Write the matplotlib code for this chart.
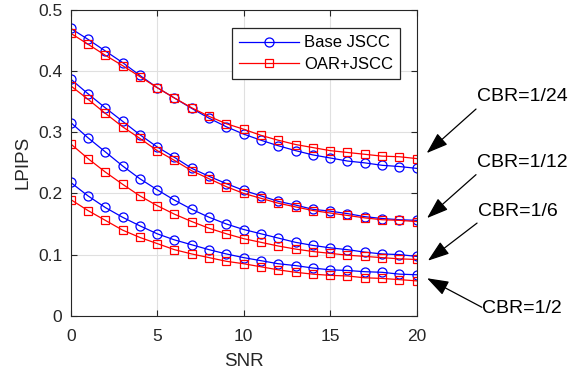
import matplotlib
matplotlib.use("Agg")
import matplotlib.pyplot as plt

plt.rcParams['font.family'] = ['Liberation Sans', 'DejaVu Sans']

snr = list(range(21))

base_cbr24 = [0.470, 0.452, 0.433, 0.414, 0.393, 0.373, 0.356, 0.339, 0.323, 0.309, 0.297,
              0.287, 0.278, 0.270, 0.263, 0.258, 0.253, 0.250, 0.246, 0.244, 0.241]
oar_cbr24 = [0.462, 0.444, 0.426, 0.409, 0.391, 0.373, 0.356, 0.340, 0.326, 0.314, 0.305,
             0.295, 0.287, 0.280, 0.275, 0.270, 0.267, 0.264, 0.261, 0.260, 0.257]
base_cbr12 = [0.387, 0.363, 0.340, 0.318, 0.296, 0.276, 0.259, 0.241, 0.228, 0.216, 0.205,
              0.196, 0.187, 0.181, 0.174, 0.171, 0.167, 0.162, 0.159, 0.157, 0.156]
oar_cbr12 = [0.376, 0.354, 0.331, 0.309, 0.290, 0.270, 0.254, 0.237, 0.224, 0.211, 0.200,
             0.192, 0.184, 0.178, 0.172, 0.168, 0.164, 0.160, 0.157, 0.156, 0.154]
base_cbr6 = [0.316, 0.291, 0.268, 0.245, 0.224, 0.206, 0.189, 0.174, 0.161, 0.150, 0.141,
             0.134, 0.127, 0.120, 0.115, 0.111, 0.108, 0.104, 0.101, 0.100, 0.097]
oar_cbr6 = [0.281, 0.257, 0.235, 0.215, 0.196, 0.180, 0.166, 0.154, 0.143, 0.134, 0.126,
            0.120, 0.114, 0.109, 0.105, 0.102, 0.099, 0.097, 0.095, 0.093, 0.092]
base_cbr2 = [0.218, 0.196, 0.177, 0.161, 0.147, 0.134, 0.124, 0.116, 0.108, 0.101, 0.095,
             0.090, 0.085, 0.082, 0.078, 0.075, 0.074, 0.072, 0.071, 0.068, 0.067]
oar_cbr2 = [0.190, 0.172, 0.156, 0.140, 0.128, 0.118, 0.108, 0.101, 0.095, 0.089, 0.085,
            0.080, 0.075, 0.071, 0.068, 0.066, 0.065, 0.062, 0.061, 0.059, 0.057]

base_series = [base_cbr24, base_cbr12, base_cbr6, base_cbr2]
oar_series = [oar_cbr24, oar_cbr12, oar_cbr6, oar_cbr2]
legend_labels = ['Base JSCC', 'OAR+JSCC']
cbr_labels = ['CBR=1/24', 'CBR=1/12', 'CBR=1/6', 'CBR=1/2']
x_ticks = [0, 5, 10, 15, 20]
y_ticks = [0, 0.1, 0.2, 0.3, 0.4, 0.5]
y_tick_labels = ['0', '0.1', '0.2', '0.3', '0.4', '0.5']

fig = plt.figure(figsize=(5.8, 3.72), dpi=100)
ax = fig.add_axes([0.1219, 0.1513, 0.5965, 0.8218])

dark = '0.15'
for i, (b, o) in enumerate(zip(base_series, oar_series)):
    ax.plot(snr, b, color='#0000FF', lw=0.9, marker='o', ms=6.5, mfc='none', mew=0.9,
            label=legend_labels[0] if i == 0 else None)
    ax.plot(snr, o, color='#FF0000', lw=0.9, marker='s', ms=5.2, mfc='none', mew=0.9,
            label=legend_labels[1] if i == 0 else None)

ax.set_xlim(0, 20)
ax.set_ylim(0, 0.5)
ax.set_xticks(x_ticks)
ax.set_yticks(y_ticks)
ax.set_xticklabels([str(t) for t in x_ticks])
ax.set_yticklabels(y_tick_labels)
ax.grid(True, color='#E0E0E0', lw=0.8)
ax.set_axisbelow(True)
ax.tick_params(direction='in', top=True, right=True, length=4, width=0.8,
               colors=dark, labelsize=12.5)
ax.tick_params(axis='x', pad=9.5)
ax.tick_params(axis='y', pad=6)
for sp in ax.spines.values():
    sp.set_color(dark)
    sp.set_linewidth(0.8)
ax.set_xlabel('SNR', fontsize=13.5, color=dark, labelpad=6.5)
ax.set_ylabel('LPIPS', fontsize=13.5, color=dark, labelpad=4.5)

leg = ax.legend(loc='upper left', bbox_to_anchor=(0.465, 0.94), borderaxespad=0,
                fontsize=12, handlelength=3.6, handletextpad=0.35, labelspacing=0.38,
                borderpad=0.42, fancybox=False, framealpha=1, edgecolor=dark)
leg.get_frame().set_linewidth(0.9)

text_pos = [(23.47, 0.358), (23.47, 0.251), (23.54, 0.1705), (23.76, 0.0121)]
arrow_tail = [(23.43, 0.338), (23.43, 0.2307), (23.49, 0.1515), (23.77, 0.0138)]
arrow_head = [(20.58, 0.266), (20.6, 0.1597), (20.65, 0.090), (20.6, 0.0613)]
for lab, tp, at, ah in zip(cbr_labels, text_pos, arrow_tail, arrow_head):
    ax.annotate('', xy=ah, xytext=at, xycoords='data', textcoords='data',
                annotation_clip=False,
                arrowprops=dict(arrowstyle='-|>,head_length=0.95,head_width=0.33',
                                color='black', lw=0.9, mutation_scale=14,
                                shrinkA=0, shrinkB=0))
    ax.text(tp[0], tp[1], lab, fontsize=14, color='black', ha='left', va='center',
            clip_on=False)

fig.savefig('out.png', dpi=100)
